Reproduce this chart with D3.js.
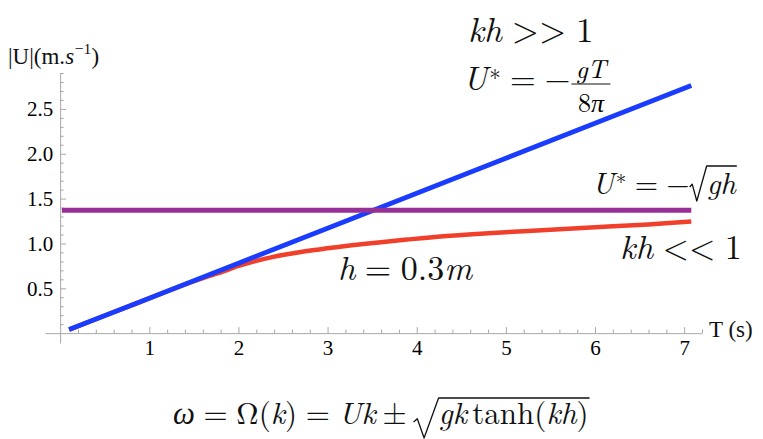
<!DOCTYPE html>
<html>
<head>
<meta charset="utf-8">
<script src="https://cdn.jsdelivr.net/npm/d3@7"></script>
<style>
  body { margin: 0; background: #fff; }
  .axis path, .axis line { stroke: #a8a8a8; }
</style>
</head>
<body>
<div id="chart"></div>
<script>

// values
const xTicks = [1, 2, 3, 4, 5, 6, 7]
const yTicks = [0.5, 1.0, 1.5, 2.0, 2.5]

// deep water limit, U* = -gT/8pi  (blue)
const deepT = [0.1, 1, 2, 3, 4, 5, 6, 7.08]
const deepU = [0.04, 0.39, 0.78, 1.17, 1.56, 1.95, 2.34, 2.76]

// shallow water limit, U* = -sqrt(gh)  (purple)
const shallowT = [0.02, 7.08]
const shallowU = [1.37, 1.37]

// finite depth h = 0.3 m  (red)
const finiteT = [0.1, 0.8, 1.3, 1.6, 1.85, 2.02, 2.39, 2.77, 3.14, 3.51, 3.89, 4.3, 4.8, 5.4, 6.0, 6.6, 7.08]
const finiteU = [0.04, 0.31, 0.505, 0.612, 0.695, 0.755, 0.85, 0.915, 0.963, 1.005, 1.043, 1.08, 1.113, 1.148, 1.18, 1.212, 1.245]

const W = 763, H = 439
const tickFont = '"Liberation Serif"'
const mathFont = '"Latin Modern Roman"'

const svg = d3.select('#chart').append('svg')
    .attr('width', W)
    .attr('height', H)

const x = d3.scaleLinear().domain([-0.17, 7.2]).range([45, 702])
const y = d3.scaleLinear().domain([-0.11, 2.9]).range([343, 73])

//x axis, ticks pointing up like mathematica
svg.append('g')
    .attr('class', 'axis')
    .attr('transform', 'translate(0,' + y(0) + ')')
    .call(d3.axisBottom(x).tickValues(xTicks).tickSize(-6).tickSizeOuter(0).tickPadding(7).tickFormat(d3.format('d')))

svg.append('g')
    .attr('class', 'axis')
    .attr('transform', 'translate(0,' + y(0) + ')')
    .call(d3.axisBottom(x).tickValues(d3.range(0.2, 7.21, 0.2).filter(v => Math.abs(v - Math.round(v)) > 0.01)).tickSize(-3.5).tickSizeOuter(0).tickFormat(''))
    .select('.domain').remove()

//y axis
svg.append('g')
    .attr('class', 'axis')
    .attr('transform', 'translate(' + x(0) + ',0)')
    .call(d3.axisLeft(y).tickValues(yTicks).tickSize(-6).tickSizeOuter(0).tickPadding(7).tickFormat(d3.format('.1f')))

svg.append('g')
    .attr('class', 'axis')
    .attr('transform', 'translate(' + x(0) + ',0)')
    .call(d3.axisLeft(y).tickValues(d3.range(0.1, 2.91, 0.1).filter(v => Math.abs(v * 2 - Math.round(v * 2)) > 0.01)).tickSize(-3.5).tickSizeOuter(0).tickFormat(''))
    .select('.domain').remove()

svg.selectAll('.axis text')
    .style('font-family', tickFont)
    .style('font-size', '21px')
    .attr('fill', '#000')

// curves
const line = d3.line()
    .x(d => x(d[0]))
    .y(d => y(d[1]))

const zip = (a, b) => a.map((v, i) => [v, b[i]])

svg.append('path')
    .datum(zip(finiteT, finiteU))
    .attr('fill', 'none')
    .attr('stroke', '#f0402c')
    .attr('stroke-width', 4.5)
    .attr('d', line.curve(d3.curveCatmullRom))

svg.append('path')
    .datum(zip(deepT, deepU))
    .attr('fill', 'none')
    .attr('stroke', '#1a3cff')
    .attr('stroke-width', 4.8)
    .attr('d', line.curve(d3.curveLinear))

svg.append('path')
    .datum(zip(shallowT, shallowU))
    .attr('fill', 'none')
    .attr('stroke', '#962f96')
    .attr('stroke-width', 5)
    .attr('d', line.curve(d3.curveLinear))

// little layout helper for the latex-ish labels
// parts: number = gap in em, or [string, italic, scale, rise]
function mathRow(x0, y0, size, parts, fam){
    let cx = x0
    parts.forEach(p => {
        if(typeof p === 'number'){ cx += p * size; return }
        const [str, it, scale = 1, rise = 0] = p
        const el = svg.append('text')
            .attr('x', cx)
            .attr('y', y0 - rise * size)
            .attr('fill', '#111')
            .style('font-family', fam || mathFont)
            .style('font-size', (size * scale) + 'px')
            .style('font-style', it ? 'italic' : 'normal')
            .text(str)
        cx += el.node().getComputedTextLength()
    })
    return cx
}

function radical(x0, yTop, yBot, w, xEnd){
    const h = yBot - yTop
    svg.append('path')
        .attr('fill', 'none')
        .attr('stroke', '#111')
        .attr('stroke-width', 1.3)
        .attr('stroke-linejoin', 'round')
        .attr('d', `M${x0},${yBot - 0.4 * h} L${x0 + 0.15 * w},${yBot - 0.48 * h} L${x0 + 0.42 * w},${yBot} L${x0 + w},${yTop} L${xEnd},${yTop}`)
}

//axis titles
mathRow(8, 64, 23, [['|U|(m.', 0], ['s', 1], 0.03, ['−1', 0, 0.68, 0.42], [')', 0]], tickFont)
mathRow(709, 337, 23, [['T (s)', 0]], tickFont)

// kh >> 1
mathRow(468, 42, 35, [['kh', 1], 0.278, ['>', 0], ['>', 0], 0.278, ['1', 0]])

// U* = -gT/8pi
let fx = mathRow(463, 90, 33, [['U', 1], 0.05, ['*', 0, 0.7, 0.12], 0.278, ['=', 0], 0.278, ['−', 0]])
svg.append('line')
    .attr('x1', fx + 1).attr('x2', fx + 40)
    .attr('y1', 84).attr('y2', 84)
    .attr('stroke', '#111').attr('stroke-width', 1)
svg.append('text').attr('x', fx + 20.5).attr('y', 78).attr('text-anchor', 'middle')
    .style('font-family', mathFont).style('font-size', '26px').style('font-style', 'italic').text('gT')
svg.append('text').attr('x', fx + 20.5).attr('y', 112).attr('text-anchor', 'middle')
    .style('font-family', mathFont).style('font-size', '26px').text('8').append('tspan').style('font-style', 'italic').text('π')

// U* = -sqrt(gh)
let sx = mathRow(592, 194, 30, [['U', 1], 0.05, ['*', 0, 0.7, 0.12], 0.278, ['=', 0], 0.278, ['−', 0]])
let sEnd = mathRow(sx + 17, 194, 30, [['gh', 1]])
radical(sx, 166, 201, 17, sEnd + 1)

// kh << 1
mathRow(620, 259, 34, [['kh', 1], 0.278, ['<', 0], ['<', 0], 0.278, ['1', 0]])

// h = 0.3m
mathRow(338, 280, 34, [['h', 1], 0.278, ['=', 0], 0.278, ['0.3', 0], ['m', 1]])

// dispersion relation at the bottom
let bx = mathRow(173, 424, 31, [['ω', 1], 0.278, ['=', 0], 0.278, ['Ω(', 0], ['k', 1], [')', 0], 0.278, ['=', 0], 0.278, ['Uk', 1], 0.222, ['±', 0], 0.222])
let bEnd = mathRow(bx + 25, 424, 31, [['gk', 1], 0.167, ['tanh(', 0], ['kh', 1], [')', 0]])
radical(bx, 398, 438, 25, bEnd + 1)

</script>
</body>
</html>
